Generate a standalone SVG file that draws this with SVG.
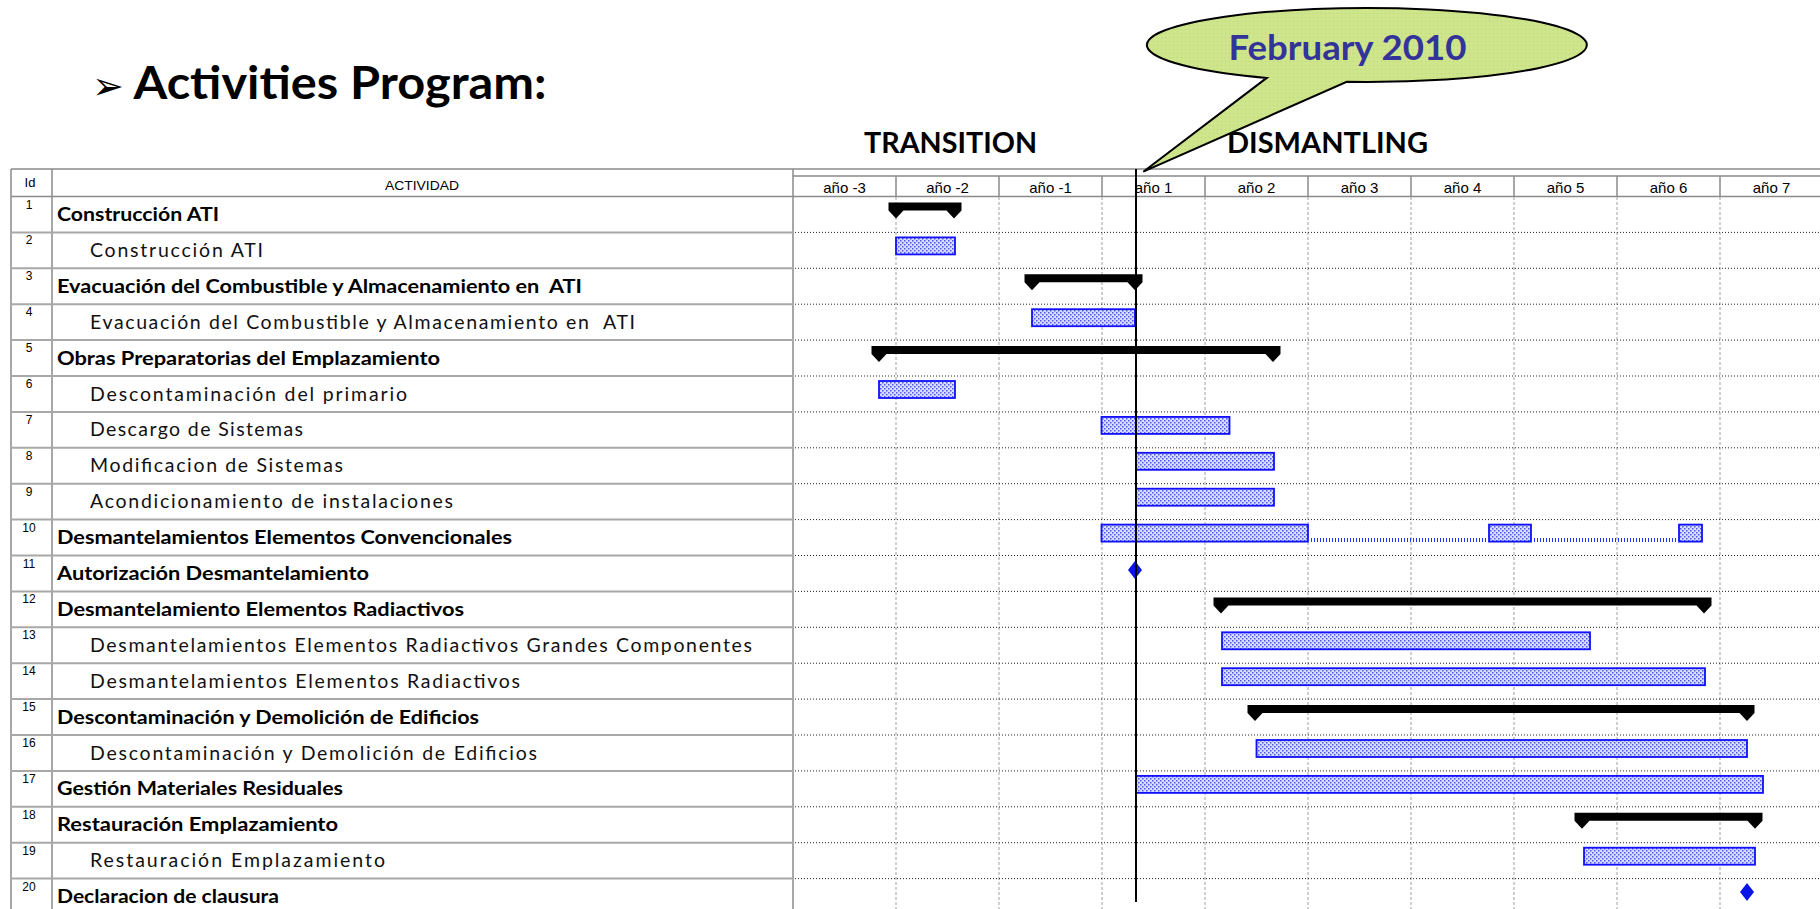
<svg xmlns="http://www.w3.org/2000/svg" width="1820" height="909" viewBox="0 0 1820 909">
<defs>
<pattern id="bluefill" width="4" height="4" patternUnits="userSpaceOnUse">
<rect width="4" height="4" fill="#d8dcff"/>
<rect x="0" y="0" width="1.5" height="1.5" fill="#4a5ae8"/>
<rect x="2" y="2" width="1.5" height="1.5" fill="#4a5ae8"/>
</pattern>
<pattern id="greenfill" width="4" height="4" patternUnits="userSpaceOnUse">
<rect width="4" height="4" fill="#cfe58c"/>
<rect x="1" y="1" width="1" height="1" fill="#b9d472"/>
</pattern>
</defs>
<style>
.bold{font-family:Lato,"Open Sans","Liberation Sans",sans-serif;font-weight:700;font-size:19.5px;fill:#000}
.light{font-family:Lato,"Open Sans","Liberation Sans",sans-serif;font-weight:400;font-size:19.5px;fill:#111}
.id{font-family:"Liberation Sans",Arial,sans-serif;font-size:12px;fill:#000;text-anchor:middle}
.yr{font-family:"Liberation Sans",Arial,sans-serif;font-size:15px;fill:#000;text-anchor:middle}
.hdr{font-family:"Liberation Sans",Arial,sans-serif;font-size:13px;fill:#000}
.big{font-family:Lato,"Open Sans","Liberation Sans",sans-serif;font-weight:700;fill:#000}
.tline{stroke:#a8a8a8;stroke-width:2;fill:none}
.border{stroke:#8a8a8a;stroke-width:1.5;fill:none}
.hdot{stroke:#222;stroke-width:1;stroke-dasharray:1 2;fill:none}
.vdash{stroke:#a0a0a0;stroke-width:1;stroke-dasharray:3 2;fill:none}
.task{fill:url(#bluefill);stroke:#1010ff;stroke-width:1.8}
.sum{fill:#000;stroke:none}
.ms{fill:#0a14e6}
</style>
<rect width="1820" height="909" fill="#fff"/>

<g id="title">
<text x="92" y="99" font-family="'DejaVu Sans',sans-serif" font-size="38" fill="#000">➢</text>
<text x="133.5" y="99" class="big" font-size="45" textLength="413" lengthAdjust="spacingAndGlyphs">Activities Program:</text>
</g>

<g id="phases">
<text x="864" y="153" class="big" font-size="29" textLength="173" lengthAdjust="spacingAndGlyphs">TRANSITION</text>
<text x="1227" y="153" class="big" font-size="29" textLength="201" lengthAdjust="spacingAndGlyphs">DISMANTLING</text>
</g>

<g id="grid">
<line x1="11" y1="169" x2="1820" y2="169" class="border"/>
<line x1="793" y1="176" x2="1820" y2="176" class="border"/>
<line x1="11" y1="196.5" x2="1820" y2="196.5" class="border"/>
<line x1="11" y1="169" x2="11" y2="909" class="border"/>
<line x1="52" y1="169" x2="52" y2="909" class="border"/>
<line x1="793" y1="169" x2="793" y2="909" class="border"/>
<g class="border">
<line x1="896" y1="176" x2="896" y2="196.5"/><line x1="999" y1="176" x2="999" y2="196.5"/><line x1="1102" y1="176" x2="1102" y2="196.5"/><line x1="1205" y1="176" x2="1205" y2="196.5"/><line x1="1308" y1="176" x2="1308" y2="196.5"/><line x1="1411" y1="176" x2="1411" y2="196.5"/><line x1="1514" y1="176" x2="1514" y2="196.5"/><line x1="1617" y1="176" x2="1617" y2="196.5"/><line x1="1720" y1="176" x2="1720" y2="196.5"/>
</g>
<g class="vdash">
<line x1="896" y1="197" x2="896" y2="909"/><line x1="999" y1="197" x2="999" y2="909"/><line x1="1102" y1="197" x2="1102" y2="909"/><line x1="1205" y1="197" x2="1205" y2="909"/><line x1="1308" y1="197" x2="1308" y2="909"/><line x1="1411" y1="197" x2="1411" y2="909"/><line x1="1514" y1="197" x2="1514" y2="909"/><line x1="1617" y1="197" x2="1617" y2="909"/><line x1="1720" y1="197" x2="1720" y2="909"/>
</g>
<g class="tline">
<line x1="11" y1="232.4" x2="793" y2="232.4"/><line x1="11" y1="268.3" x2="793" y2="268.3"/><line x1="11" y1="304.2" x2="793" y2="304.2"/><line x1="11" y1="340.1" x2="793" y2="340.1"/><line x1="11" y1="376" x2="793" y2="376"/><line x1="11" y1="411.9" x2="793" y2="411.9"/><line x1="11" y1="447.8" x2="793" y2="447.8"/><line x1="11" y1="483.7" x2="793" y2="483.7"/><line x1="11" y1="519.6" x2="793" y2="519.6"/><line x1="11" y1="555.5" x2="793" y2="555.5"/><line x1="11" y1="591.4" x2="793" y2="591.4"/><line x1="11" y1="627.3" x2="793" y2="627.3"/><line x1="11" y1="663.2" x2="793" y2="663.2"/><line x1="11" y1="699.1" x2="793" y2="699.1"/><line x1="11" y1="735" x2="793" y2="735"/><line x1="11" y1="770.9" x2="793" y2="770.9"/><line x1="11" y1="806.8" x2="793" y2="806.8"/><line x1="11" y1="842.7" x2="793" y2="842.7"/><line x1="11" y1="878.6" x2="793" y2="878.6"/>
</g>
<g class="hdot">
<line x1="795" y1="232.4" x2="1820" y2="232.4"/><line x1="795" y1="268.3" x2="1820" y2="268.3"/><line x1="795" y1="304.2" x2="1820" y2="304.2"/><line x1="795" y1="340.1" x2="1820" y2="340.1"/><line x1="795" y1="376" x2="1820" y2="376"/><line x1="795" y1="411.9" x2="1820" y2="411.9"/><line x1="795" y1="447.8" x2="1820" y2="447.8"/><line x1="795" y1="483.7" x2="1820" y2="483.7"/><line x1="795" y1="519.6" x2="1820" y2="519.6"/><line x1="795" y1="555.5" x2="1820" y2="555.5"/><line x1="795" y1="591.4" x2="1820" y2="591.4"/><line x1="795" y1="627.3" x2="1820" y2="627.3"/><line x1="795" y1="663.2" x2="1820" y2="663.2"/><line x1="795" y1="699.1" x2="1820" y2="699.1"/><line x1="795" y1="735" x2="1820" y2="735"/><line x1="795" y1="770.9" x2="1820" y2="770.9"/><line x1="795" y1="806.8" x2="1820" y2="806.8"/><line x1="795" y1="842.7" x2="1820" y2="842.7"/><line x1="795" y1="878.6" x2="1820" y2="878.6"/>
</g>
</g>

<g id="header">
<text x="30" y="186.5" class="hdr" text-anchor="middle">Id</text>
<text x="422" y="190" class="hdr" font-size="14" text-anchor="middle" textLength="74" lengthAdjust="spacingAndGlyphs">ACTIVIDAD</text>
<text x="844.5" y="193" class="yr">año -3</text>
<text x="947.5" y="193" class="yr">año -2</text>
<text x="1050.5" y="193" class="yr">año -1</text>
<text x="1153.5" y="193" class="yr">año 1</text>
<text x="1256.5" y="193" class="yr">año 2</text>
<text x="1359.5" y="193" class="yr">año 3</text>
<text x="1462.5" y="193" class="yr">año 4</text>
<text x="1565.5" y="193" class="yr">año 5</text>
<text x="1668.5" y="193" class="yr">año 6</text>
<text x="1771.5" y="193" class="yr">año 7</text>
</g>

<g id="row1"><text x="29" y="208.5" class="id">1</text><text x="57" y="221" class="bold" textLength="162" lengthAdjust="spacingAndGlyphs">Construcción ATI</text>
<path class="sum" d="M888.5,202.5 H961.5 V210.5 L954,218.5 L946.5,210.5 H903.5 L896,218.5 L888.5,210.5 Z"/></g>
<g id="row2"><text x="29" y="244.4" class="id">2</text><text x="90" y="256.9" class="light" textLength="173">Construcción ATI</text>
<rect class="task" x="896" y="237.4" width="59" height="17"/></g>
<g id="row3"><text x="29" y="280.3" class="id">3</text><text x="57" y="292.8" class="bold" textLength="525" lengthAdjust="spacingAndGlyphs" xml:space="preserve">Evacuación del Combustible y Almacenamiento en  ATI</text>
<path class="sum" d="M1024.5,274.3 H1142.5 V282.3 L1135,290.3 L1127.5,282.3 H1039.5 L1032,290.3 L1024.5,282.3 Z"/></g>
<g id="row4"><text x="29" y="316.2" class="id">4</text><text x="90" y="328.7" class="light" textLength="545" xml:space="preserve">Evacuación del Combustible y Almacenamiento en  ATI</text>
<rect class="task" x="1032" y="309.2" width="103" height="17"/></g>
<g id="row5"><text x="29" y="352.1" class="id">5</text><text x="57" y="364.6" class="bold" textLength="383" lengthAdjust="spacingAndGlyphs">Obras Preparatorias del Emplazamiento</text>
<path class="sum" d="M871.5,346.1 H1280.5 V354.1 L1273,362.1 L1265.5,354.1 H886.5 L879,362.1 L871.5,354.1 Z"/></g>
<g id="row6"><text x="29" y="388" class="id">6</text><text x="90" y="400.5" class="light" textLength="317">Descontaminación del primario</text>
<rect class="task" x="879" y="381" width="76" height="17"/></g>
<g id="row7"><text x="29" y="423.9" class="id">7</text><text x="90" y="436.4" class="light" textLength="213">Descargo de Sistemas</text>
<rect class="task" x="1101.5" y="416.9" width="128" height="17"/></g>
<g id="row8"><text x="29" y="459.8" class="id">8</text><text x="90" y="472.3" class="light" textLength="253">Modificacion de Sistemas</text>
<rect class="task" x="1136" y="452.8" width="138" height="17"/></g>
<g id="row9"><text x="29" y="495.7" class="id">9</text><text x="90" y="508.2" class="light" textLength="363">Acondicionamiento de instalaciones</text>
<rect class="task" x="1136" y="488.7" width="138" height="17"/></g>
<g id="row10"><text x="29" y="531.6" class="id">10</text><text x="57" y="544.1" class="bold" textLength="455" lengthAdjust="spacingAndGlyphs">Desmantelamientos Elementos Convencionales</text>
<rect class="task" x="1101.5" y="524.6" width="206.5" height="17"/>
<rect class="task" x="1489" y="524.6" width="42" height="17"/>
<rect class="task" x="1679" y="524.6" width="23" height="17"/></g>
<g id="row11"><text x="29" y="567.5" class="id">11</text><text x="57" y="580" class="bold" textLength="312" lengthAdjust="spacingAndGlyphs">Autorización Desmantelamiento</text>
<path class="ms" d="M1135,561 L1142,570 L1135,579 L1128,570 Z"/></g>
<g id="row12"><text x="29" y="603.4" class="id">12</text><text x="57" y="615.9" class="bold" textLength="407" lengthAdjust="spacingAndGlyphs">Desmantelamiento Elementos Radiactivos</text>
<path class="sum" d="M1213.5,597.4 H1711.5 V605.4 L1704,613.4 L1696.5,605.4 H1228.5 L1221,613.4 L1213.5,605.4 Z"/></g>
<g id="row13"><text x="29" y="639.3" class="id">13</text><text x="90" y="651.8" class="light" textLength="662">Desmantelamientos Elementos Radiactivos Grandes Componentes</text>
<rect class="task" x="1222" y="632.3" width="368" height="17"/></g>
<g id="row14"><text x="29" y="675.2" class="id">14</text><text x="90" y="687.7" class="light" textLength="430">Desmantelamientos Elementos Radiactivos</text>
<rect class="task" x="1222" y="668.2" width="483" height="17"/></g>
<g id="row15"><text x="29" y="711.1" class="id">15</text><text x="57" y="723.6" class="bold" textLength="422" lengthAdjust="spacingAndGlyphs">Descontaminación y Demolición de Edificios</text>
<path class="sum" d="M1247.5,705.1 H1754.5 V713.1 L1747,721.1 L1739.5,713.1 H1262.5 L1255,721.1 L1247.5,713.1 Z"/></g>
<g id="row16"><text x="29" y="747" class="id">16</text><text x="90" y="759.5" class="light" textLength="447">Descontaminación y Demolición de Edificios</text>
<rect class="task" x="1256.5" y="740" width="490.5" height="17"/></g>
<g id="row17"><text x="29" y="782.9" class="id">17</text><text x="57" y="795.4" class="bold" textLength="286" lengthAdjust="spacingAndGlyphs">Gestión Materiales Residuales</text>
<rect class="task" x="1136" y="775.9" width="627" height="17"/></g>
<g id="row18"><text x="29" y="818.8" class="id">18</text><text x="57" y="831.3" class="bold" textLength="281" lengthAdjust="spacingAndGlyphs">Restauración Emplazamiento</text>
<path class="sum" d="M1574.5,812.8 H1762.5 V820.8 L1755,828.8 L1747.5,820.8 H1589.5 L1582,828.8 L1574.5,820.8 Z"/></g>
<g id="row19"><text x="29" y="854.7" class="id">19</text><text x="90" y="867.2" class="light" textLength="295">Restauración Emplazamiento</text>
<rect class="task" x="1584" y="847.7" width="171" height="17"/></g>
<g id="row20"><text x="29" y="890.6" class="id">20</text><text x="57" y="903.1" class="bold" textLength="222" lengthAdjust="spacingAndGlyphs">Declaracion de clausura</text>
<path class="ms" d="M1747,883 L1754,892 L1747,901 L1740,892 Z"/></g>

<g id="connectors">
<line x1="1308" y1="540" x2="1489" y2="540" stroke="#2233ff" stroke-width="4" stroke-dasharray="1 2"/>
<line x1="1531" y1="540" x2="1679" y2="540" stroke="#2233ff" stroke-width="4" stroke-dasharray="1 2"/>
</g>

<g id="today">
<line x1="1136" y1="169" x2="1136" y2="902" stroke="#000" stroke-width="2"/>
</g>

<g id="callout">
<path d="M1346.7,81.8 A220,37 0 1 0 1266.7,77.9 L1143.3,171.7 Z" fill="url(#greenfill)" stroke="#000" stroke-width="2" stroke-linejoin="miter"/>
<text x="1347.5" y="60" font-family="Lato,'Open Sans','Liberation Sans',sans-serif" font-weight="700" font-size="34" fill="#333399" text-anchor="middle" textLength="238" lengthAdjust="spacingAndGlyphs">February 2010</text>
</g>
</svg>
